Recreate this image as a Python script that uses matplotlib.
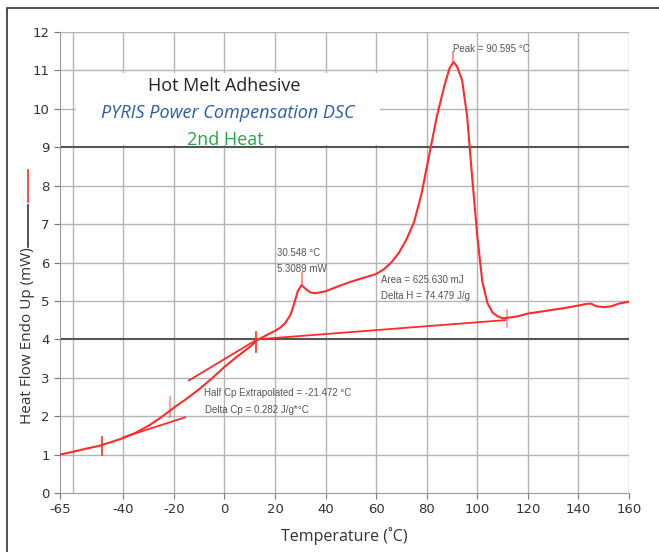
import matplotlib.pyplot as plt
import matplotlib.patches as patches
from matplotlib.lines import Line2D

plt.rcParams['axes.unicode_minus'] = False

# DSC heat flow curve (2nd heat)
temp = [-65, -60, -55, -50, -45, -40, -35, -30, -25, -20, -15, -10, -5, 0, 5, 10, 13, 17, 20, 22, 24,
        26, 27, 28, 29, 30.5, 32, 34, 36, 40, 45, 50, 55, 60, 63, 66, 69, 72, 75, 78, 81, 84, 87, 89, 90.6,
        92, 94, 96, 98, 100, 102, 104, 106, 108, 110, 112, 116, 120, 125, 130, 135, 140, 143, 145, 147,
        150, 153, 156, 160]
heat_flow = [1.0, 1.07, 1.15, 1.22, 1.32, 1.43, 1.57, 1.75, 1.97, 2.22, 2.45, 2.7, 2.98, 3.28, 3.55, 3.8, 3.98, 4.12, 4.22, 4.3, 4.42,
             4.62, 4.8, 5.02, 5.25, 5.41, 5.32, 5.22, 5.2, 5.25, 5.38, 5.5, 5.6, 5.7, 5.82, 6.0, 6.25, 6.6, 7.05, 7.8, 8.8, 9.8, 10.6, 11.05, 11.22,
             11.1, 10.75, 9.8, 8.2, 6.7, 5.5, 4.95, 4.7, 4.6, 4.55, 4.56, 4.6, 4.67, 4.72, 4.77, 4.82, 4.88, 4.92, 4.93, 4.86,
             4.84, 4.86, 4.93, 4.98]

# construction lines
baseline_t = [13, 111]
baseline_hf = [4.0, 4.5]
upper_tan_t = [-14, 13]
upper_tan_hf = [2.93, 4.0]
lower_tan_t = [-40, -15.5]
lower_tan_hf = [1.45, 1.97]

# marker ticks (x, ymin, ymax, alpha)
markers = [(-48.5, 1.0, 1.46, 1.0), (-21.5, 1.97, 2.5, 0.5), (12.5, 3.67, 4.2, 1.0), (111.7, 4.32, 4.77, 0.5),
           (30.5, 5.42, 5.72, 0.6), (90.6, 11.22, 11.48, 0.6)]

red = '#ff2a2a'
fig = plt.figure(figsize=(6.59, 5.52), dpi=100)
ax = fig.add_axes([60 / 659, 1 - 493 / 552, 569 / 659, 461 / 552])

ax.set_xlim(-65, 160)
ax.set_ylim(0, 12)
ax.set_xticks([-65, -40, -20, 0, 20, 40, 60, 80, 100, 120, 140, 160])
ax.set_yticks(range(0, 13))
for gx in range(-60, 161, 20):
    ax.axvline(gx, color='#b4b4b4', lw=1.0, zorder=0)
for gy in range(1, 13):
    if gy in (4, 9):
        ax.axhline(gy, color='#555555', lw=1.5, zorder=0)
    else:
        ax.axhline(gy, color='#b4b4b4', lw=1.0, zorder=0)
for s in ax.spines.values():
    s.set_color('#9a9a9a')
ax.spines['top'].set_visible(False)
ax.spines['right'].set_visible(False)
ax.tick_params(axis='both', length=4, color='#777777', labelsize=9.5, labelcolor='#333333')

# white box behind the titles
ax.add_patch(patches.Rectangle((-58.5, 9.07), 120, 1.86, facecolor='white', edgecolor='none', zorder=1))

ax.plot(temp, heat_flow, color=red, lw=1.5, zorder=3)
ax.plot(baseline_t, baseline_hf, color=red, lw=1.3, zorder=3)
ax.plot(upper_tan_t, upper_tan_hf, color=red, lw=1.3, zorder=3)
ax.plot(lower_tan_t, lower_tan_hf, color=red, lw=1.3, zorder=3)
for mx, y0, y1, a in markers:
    ax.plot([mx, mx], [y0, y1], color=red, lw=1.2, alpha=a, zorder=3)

tfont = 'Open Sans'
ax.text(0, 10.6, 'Hot Melt Adhesive', ha='center', va='center', fontsize=13, color='#222222', family=tfont, zorder=4)
ax.text(1.5, 9.9, 'PYRIS Power Compensation DSC', ha='center', va='center', fontsize=13, color='#2a5caa',
        style='italic', family=tfont, zorder=4)
ax.text(0.5, 9.2, '2nd Heat', ha='center', va='center', fontsize=13, color='#22a844', family=tfont, zorder=4)

sfont = 'Liberation Sans'
small = dict(fontsize=7, color='#555555', family=sfont, zorder=4)
ax.text(90.6, 11.55, 'Peak = 90.595 °C', ha='left', va='center', **small)
ax.text(20.8, 6.25, '30.548 °C', ha='left', va='center', **small)
ax.text(20.8, 5.83, '5.3089 mW', ha='left', va='center', **small)
ax.text(61.9, 5.55, 'Area = 625.630 mJ', ha='left', va='center', **small)
ax.text(61.9, 5.13, 'Delta H = 74.479 J/g', ha='left', va='center', **small)
ax.text(-8, 2.6, 'Half Cp Extrapolated = -21.472 °C', ha='left', va='center', **small)
ax.text(-7.5, 2.16, 'Delta Cp = 0.282 J/g*°C', ha='left', va='center', **small)

ax.set_xlabel('Temperature (˚C)', fontsize=11.5, color='#333333', family=tfont, labelpad=8)
fig.text(28 / 659, 1 - 336 / 552, 'Heat Flow Endo Up (mW)', rotation=90, ha='center', va='center',
         fontsize=11, color='#333333', family=tfont)
fig.add_artist(Line2D([28 / 659, 28 / 659], [1 - 247 / 552, 1 - 205 / 552], color='#333333', lw=1.2))
fig.add_artist(Line2D([28 / 659, 28 / 659], [1 - 202 / 552, 1 - 170 / 552], color=red, lw=1.2))

# outer frame
fig.add_artist(patches.Rectangle((7 / 659, -0.1), 1.2, 1.1 - 8 / 552, transform=fig.transFigure,
                                 facecolor='none', edgecolor='#333333', lw=1.2))

plt.savefig('out.png', dpi=100)
